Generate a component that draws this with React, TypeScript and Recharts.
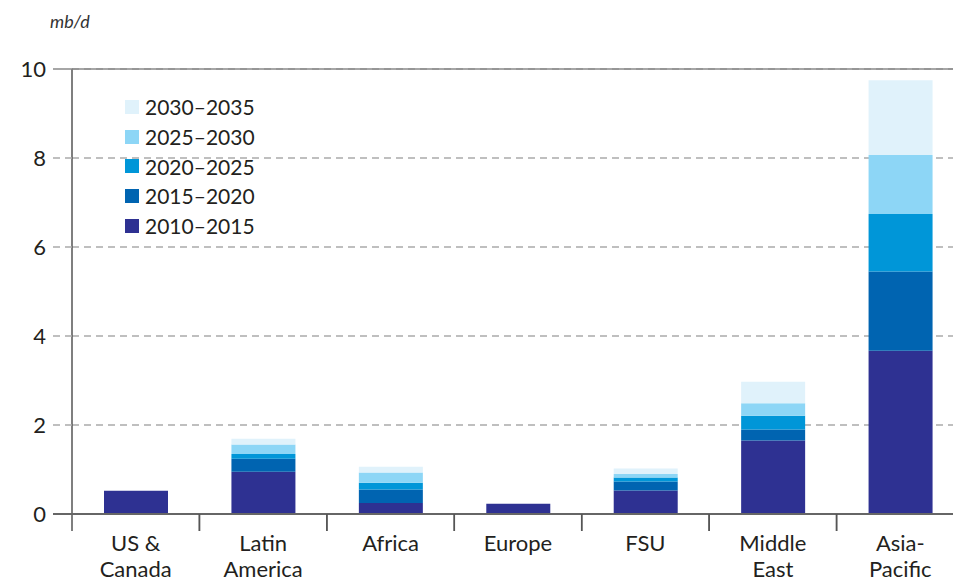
import React from 'react';
import { BarChart, Bar, XAxis, YAxis, CartesianGrid, ReferenceLine } from 'recharts';

const regions = ['US &\nCanada', 'Latin\nAmerica', 'Africa', 'Europe', 'FSU', 'Middle\nEast', 'Asia-\nPacific'];

const s2010_2015 = [0.52, 0.95, 0.25, 0.23, 0.53, 1.65, 3.67];
const s2015_2020 = [0, 0.29, 0.3, 0, 0.2, 0.25, 1.78];
const s2020_2025 = [0, 0.11, 0.15, 0, 0.09, 0.31, 1.29];
const s2025_2030 = [0, 0.21, 0.23, 0, 0.08, 0.28, 1.33];
const s2030_2035 = [0, 0.13, 0.13, 0, 0.12, 0.48, 1.68];

const seriesNames = ['2010–2015', '2015–2020', '2020–2025', '2025–2030', '2030–2035'];
const seriesColors = ['#2e3192', '#0064b1', '#0096d8', '#8dd6f6', '#e0f2fb'];
const yTicks = [0, 2, 4, 6, 8, 10];

const CHART_W = 980;
const CHART_H = 583;
const LEFT = 72;
const RIGHT = 16;
const HALF_BAND = (CHART_W - LEFT - RIGHT) / regions.length / 2;
const FONT = 'Lato, "Noto Sans", sans-serif';

const data = regions.map((region, i) => ({
  region,
  a: s2010_2015[i],
  b: s2015_2020[i],
  c: s2020_2025[i],
  d: s2025_2030[i],
  e: s2030_2035[i],
}));
const keys = ['a', 'b', 'c', 'd', 'e'];

const XTick = (props: any) => {
  const { x, y, payload } = props;
  const lines = String(payload.value).split('\n');
  return (
    <g>
      <line x1={x - HALF_BAND} x2={x - HALF_BAND} y1={y} y2={y + 17} stroke="#555" strokeWidth={1.5} />
      <line x1={x + HALF_BAND} x2={x + HALF_BAND} y1={y} y2={y + 17} stroke="#555" strokeWidth={1.5} />
      {lines.map((t, i) => (
        <text key={i} x={x} y={y + 37 + i * 26} textAnchor="middle" fontSize={22} fill="#231f20" fontFamily={FONT}>
          {t}
        </text>
      ))}
    </g>
  );
};

const YTick = (props: any) => {
  const { x, y, payload } = props;
  const v = payload.value;
  const edge = v === 0 || v === 10;
  return (
    <g>
      <line
        x1={x + 7}
        x2={x + 27}
        y1={y}
        y2={y}
        stroke={v === 0 ? '#666' : edge ? '#888' : '#aaa'}
        strokeWidth={v === 0 ? 2 : 1.5}
        strokeDasharray={edge ? undefined : '7 5'}
      />
      <text x={x} y={y + 8} textAnchor="end" fontSize={22} fill="#231f20" fontFamily={FONT}>
        {v}
      </text>
    </g>
  );
};

export default function App() {
  return (
    <div style={{ position: 'fixed', left: 0, top: 0, width: 953, height: 583, overflow: 'hidden', background: '#fff' }}>
      <BarChart
        width={CHART_W}
        height={CHART_H}
        data={data}
        margin={{ top: 69, right: RIGHT, left: 0, bottom: 0 }}
        barSize={64}
      >
        <CartesianGrid vertical={false} stroke="#aaa" strokeWidth={1.5} strokeDasharray="7 5" />
        <ReferenceLine y={10} stroke="#888" strokeWidth={1.5} />
        <XAxis
          dataKey="region"
          height={69}
          interval={0}
          tickSize={0}
          tickMargin={0}
          tickLine={false}
          axisLine={{ stroke: '#666', strokeWidth: 2 }}
          tick={<XTick />}
        />
        <YAxis
          width={LEFT}
          domain={[0, 10]}
          ticks={yTicks}
          tickSize={0}
          tickMargin={26}
          tickLine={false}
          axisLine={{ stroke: '#555', strokeWidth: 1.5 }}
          tick={<YTick />}
        />
        {keys.map((k, i) => (
          <Bar key={k} dataKey={k} name={seriesNames[i]} stackId="s" fill={seriesColors[i]} isAnimationActive={false} />
        ))}
      </BarChart>
      <div
        style={{
          position: 'absolute',
          left: 50,
          top: 10,
          fontFamily: FONT,
          fontStyle: 'italic',
          fontSize: 18,
          color: '#333',
        }}
      >
        mb/d
      </div>
      <div style={{ position: 'absolute', left: 125, top: 92, fontFamily: FONT, fontSize: 21, color: '#231f20' }}>
        {seriesNames
          .map((n, i) => ({ n, c: seriesColors[i] }))
          .reverse()
          .map((it) => (
            <div key={it.n} style={{ display: 'flex', alignItems: 'center', height: 29.7 }}>
              <span style={{ display: 'inline-block', width: 14, height: 14, background: it.c, marginRight: 6 }} />
              <span>{it.n}</span>
            </div>
          ))}
      </div>
    </div>
  );
}
